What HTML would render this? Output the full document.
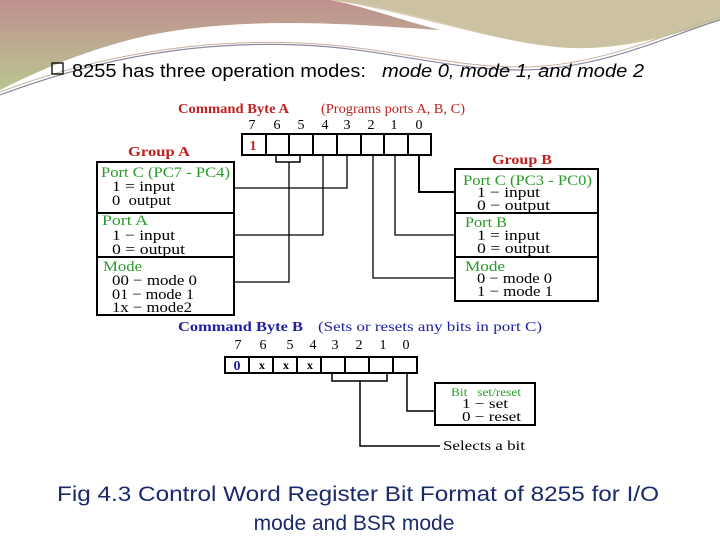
<!DOCTYPE html>
<html><head><style>
body{margin:0;width:720px;height:540px;overflow:hidden;background:#fff;}
svg{display:block}
</style></head><body>
<svg width="720" height="540" viewBox="0 0 720 540" xmlns="http://www.w3.org/2000/svg" font-family="Liberation Serif, serif">
<defs>
<linearGradient id="g2" x1="0" y1="0" x2="0" y2="1">
<stop offset="0" stop-color="#c08f8f"/><stop offset="1" stop-color="#b9c690"/>
</linearGradient>
</defs>
<path d="M0,0 H720 V20 C660,40 600,55 540,45 C470,35 420,10 330,0 Z" fill="#c9c6a0"/>
<path d="M0,0 H330 C360,5 400,20 440,30 C360,25 250,15 150,35 C90,48 40,70 0,90 Z" fill="url(#g2)"/>
<path d="M330,0 C400,10 470,35 540,45 C600,52 660,40 720,12 V0 Z" fill="#cdbfa2" opacity="0.8"/>
<path d="M0,95 C80,65 180,40 300,45 C380,48 450,70 520,70 C600,70 670,35 720,20" stroke="#8a8aa0" stroke-width="1.2" fill="none"/>
<path d="M0,92 C80,62 180,38 300,43 C380,46 450,67 520,67 C600,67 670,32 720,17" stroke="#c9b0a0" stroke-width="1" fill="none"/>

<rect x="52" y="63" width="11" height="11" fill="none" stroke="#000" stroke-width="1.3"/>
<text x="72" y="77" font-family="Liberation Sans, sans-serif" font-size="18" fill="#000" textLength="294" lengthAdjust="spacingAndGlyphs">8255 has three operation modes:</text>
<text x="382" y="77" font-family="Liberation Sans, sans-serif" font-size="18" font-style="italic" fill="#000" textLength="262" lengthAdjust="spacingAndGlyphs">mode 0, mode 1, and mode 2</text>

<g font-weight="bold" fill="#c02020" font-size="14">
<text x="178" y="113" textLength="111" lengthAdjust="spacingAndGlyphs">Command Byte A</text>
<text x="128" y="156" textLength="62" lengthAdjust="spacingAndGlyphs">Group A</text>
<text x="492" y="164" textLength="60" lengthAdjust="spacingAndGlyphs">Group B</text>
</g>
<text x="321" y="113" fill="#c02020" font-size="14" textLength="144" lengthAdjust="spacingAndGlyphs">(Programs ports A, B, C)</text>
<g font-size="14" fill="#000" text-anchor="middle">
<text x="252" y="129">7</text><text x="277" y="129">6</text><text x="301" y="129">5</text><text x="325" y="129">4</text><text x="347" y="129">3</text><text x="371" y="129">2</text><text x="394" y="129">1</text><text x="419" y="129">0</text>
</g>
<g stroke="#000" stroke-width="2" fill="none">
<rect x="242" y="134" width="189" height="21"/>
<path d="M266,134V155M289,134V155M313,134V155M337,134V155M361,134V155M384,134V155M408,134V155"/>
<rect x="97" y="162" width="137" height="153"/>
<path d="M97,213H234M97,257H234"/>
<rect x="455" y="169" width="143" height="132"/>
<path d="M455,213H598M455,257H598"/>
<path d="M276,155V162H300V155" stroke-width="1.5"/>
</g>
<g stroke="#000" stroke-width="1.3" fill="none">
<path d="M289,162V282H234"/>
<path d="M323,155V235H234"/>
<path d="M347,155V188H234"/>
<path d="M373,155V278H455"/>
<path d="M395,155V235H455"/>
<path d="M419,155V192H455" stroke-width="2"/>
</g>
<text x="253" y="150" font-weight="bold" font-size="14" fill="#c02020" text-anchor="middle">1</text>

<g font-size="15" lengthAdjust="spacingAndGlyphs">
<text x="101" y="177" fill="#2a9a2a" textLength="129" lengthAdjust="spacingAndGlyphs">Port C (PC7 - PC4)</text>
<text x="112" y="191" textLength="63" lengthAdjust="spacingAndGlyphs">1 = input</text>
<text x="112" y="205" textLength="59" lengthAdjust="spacingAndGlyphs">0&#160;&#160;output</text>
<text x="102" y="225" fill="#2a9a2a" textLength="46" lengthAdjust="spacingAndGlyphs">Port A</text>
<text x="112" y="240" textLength="63" lengthAdjust="spacingAndGlyphs">1 − input</text>
<text x="112" y="254" textLength="73" lengthAdjust="spacingAndGlyphs">0 = output</text>
<text x="103" y="271" fill="#2a9a2a" textLength="39" lengthAdjust="spacingAndGlyphs">Mode</text>
<text x="112" y="285" textLength="85" lengthAdjust="spacingAndGlyphs">00 − mode 0</text>
<text x="112" y="299" textLength="82" lengthAdjust="spacingAndGlyphs">01 − mode 1</text>
<text x="112" y="312" textLength="80" lengthAdjust="spacingAndGlyphs">1x − mode2</text>

<text x="463" y="185" fill="#2a9a2a" textLength="129" lengthAdjust="spacingAndGlyphs">Port C (PC3 - PC0)</text>
<text x="477" y="197" textLength="63" lengthAdjust="spacingAndGlyphs">1 − input</text>
<text x="477" y="210" textLength="73" lengthAdjust="spacingAndGlyphs">0 − output</text>
<text x="465" y="227" fill="#2a9a2a" textLength="42" lengthAdjust="spacingAndGlyphs">Port B</text>
<text x="477" y="240" textLength="63" lengthAdjust="spacingAndGlyphs">1 = input</text>
<text x="477" y="253" textLength="73" lengthAdjust="spacingAndGlyphs">0 = output</text>
<text x="465" y="271" fill="#2a9a2a" textLength="40" lengthAdjust="spacingAndGlyphs">Mode</text>
<text x="477" y="283" textLength="75" lengthAdjust="spacingAndGlyphs">0 − mode 0</text>
<text x="477" y="296" textLength="76" lengthAdjust="spacingAndGlyphs">1 − mode 1</text>
</g>

<text x="178" y="331" font-weight="bold" font-size="14" fill="#2020a0" textLength="125" lengthAdjust="spacingAndGlyphs">Command Byte B</text>
<text x="318" y="331" font-size="14" fill="#2020a0" textLength="224" lengthAdjust="spacingAndGlyphs">(Sets or resets any bits in port C)</text>
<g font-size="14" fill="#000" text-anchor="middle">
<text x="238" y="349">7</text><text x="263" y="349">6</text><text x="290" y="349">5</text><text x="313" y="349">4</text><text x="335" y="349">3</text><text x="359" y="349">2</text><text x="383" y="349">1</text><text x="406" y="349">0</text>
</g>
<g stroke="#000" stroke-width="2" fill="none">
<rect x="225" y="357" width="192" height="16"/>
<path d="M249,357V373M273,357V373M297,357V373M321,357V373M345,357V373M369,357V373M393,357V373"/>
<rect x="435" y="383" width="100" height="42"/>
</g>
<g stroke="#000" stroke-width="1.5" fill="none">
<path d="M332,373V381H387V373"/>
<path d="M360,381V446H440"/>
<path d="M407,373V411H435"/>
</g>
<text x="237" y="370" font-weight="bold" font-size="14" fill="#2020a0" text-anchor="middle">0</text>
<g font-weight="bold" font-size="12" text-anchor="middle"><text x="262" y="369">x</text><text x="286" y="369">x</text><text x="310" y="369">x</text></g>
<text x="451" y="396" font-size="12" fill="#2a9a2a" textLength="70" lengthAdjust="spacingAndGlyphs">Bit&#160;&#160;&#160;set/reset</text>
<text x="462" y="408" font-size="14" textLength="46" lengthAdjust="spacingAndGlyphs">1 − set</text>
<text x="462" y="421" font-size="14" textLength="59" lengthAdjust="spacingAndGlyphs">0 − reset</text>
<text x="443" y="450" font-size="14" textLength="82" lengthAdjust="spacingAndGlyphs">Selects a bit</text>

<g font-family="Liberation Sans, sans-serif" font-size="21" fill="#1a2a6a" text-anchor="middle">
<text x="358" y="501" textLength="602" lengthAdjust="spacingAndGlyphs">Fig 4.3 Control Word Register Bit Format of 8255 for I/O</text>
<text x="354" y="530">mode and BSR mode</text>
</g>
</svg>
</body></html>
